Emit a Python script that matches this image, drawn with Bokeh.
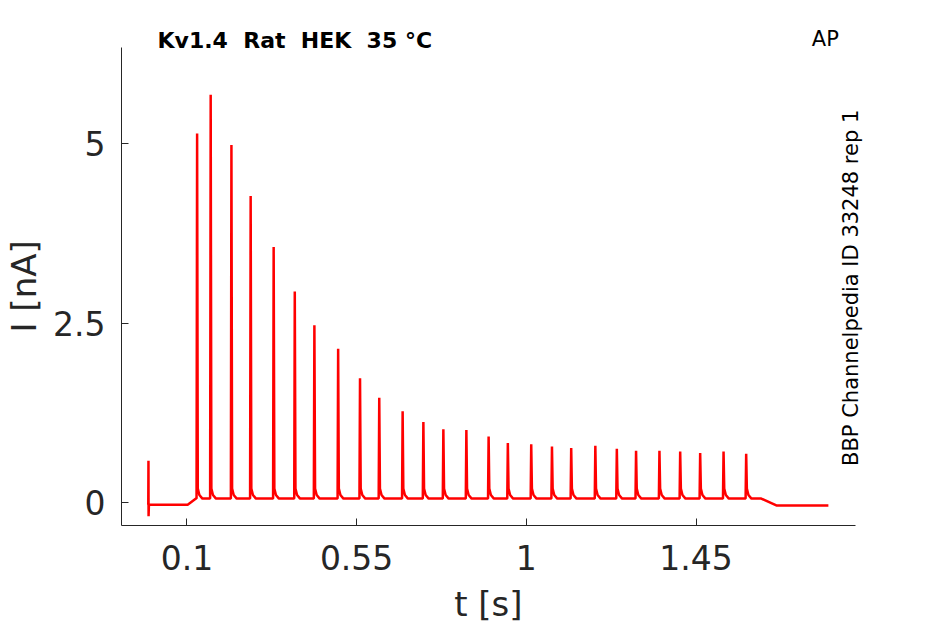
import math
from bokeh.plotting import figure
from bokeh.models import (FixedTicker, CustomJSTickFormatter, Label, Range1d,
                          LinearAxis)
from bokeh.embed import file_html
from bokeh.resources import INLINE

# ---- data ----
spike_t = [0.127, 0.163, 0.218, 0.269, 0.330, 0.386, 0.438, 0.501, 0.559, 0.610,
           0.672, 0.727, 0.780, 0.841, 0.900, 0.951, 1.013, 1.068, 1.119, 1.183,
           1.240, 1.291, 1.353, 1.408, 1.461, 1.523, 1.583]
spike_peak = [5.14, 5.68, 4.98, 4.27, 3.56, 2.94, 2.47, 2.14, 1.73, 1.46,
              1.27, 1.12, 1.02, 1.01, 0.92, 0.83, 0.81, 0.78, 0.76, 0.79,
              0.75, 0.72, 0.72, 0.71, 0.69, 0.71, 0.68]
artifact_t = -0.002
artifact_range = [0.58, -0.19]
trace_start, trace_end = -0.005, 1.801
step_on, ramp_end = 0.102, 0.124
step_off, off_end = 1.623, 1.663
pre_level, train_level, post_level = -0.03, 0.055, -0.04

x_ticks = [0.1, 0.55, 1, 1.45]
y_ticks = [0, 2.5, 5]
x_axis_bounds = (-0.0735, 1.873)
y_axis_bounds = (-0.32, 6.34)
x_view = [-0.0735, 1.9498]
y_view = [-0.32, 6.713]

x_title, x_title_at = "t [s]", 0.8995
y_title, y_title_at = "I [nA]", 3.01
title_text = "Kv1.4\u00a0\u00a0Rat\u00a0\u00a0HEK\u00a0\u00a035 \u00b0C"
corner_text = "AP"
side_text = "BBP Channelpedia ID 33248 rep 1"

# ---- build trace ----
ts, ys = [], []
def add(t, y):
    ts.append(t); ys.append(y)

add(trace_start, pre_level)
add(artifact_t - 0.0005, pre_level)
add(artifact_t, artifact_range[0])
add(artifact_t + 0.0003, artifact_range[1])
add(artifact_t + 0.0012, pre_level)
add(step_on, pre_level)
add(ramp_end, train_level)
for t, pk in zip(spike_t, spike_peak):
    add(t - 0.0015, train_level)
    add(t, pk)
    add(t + 0.0018, train_level + 0.14)
    add(t + 0.006, train_level + 0.05)
    add(t + 0.014, train_level)
add(step_off, train_level)
add(off_end, post_level)
add(trace_end, post_level)

FONT = "DejaVu Sans"
AX = "#262626"

p = figure(frame_width=763, frame_height=505, output_backend="svg",
           toolbar_location=None,
           x_range=Range1d(*x_view), y_range=Range1d(*y_view),
           min_border_left=121, min_border_right=40,
           min_border_top=20, min_border_bottom=40)
p.outline_line_color = None
p.xgrid.visible = False
p.ygrid.visible = False
p.background_fill_color = "white"
p.border_fill_color = "white"

p.line(ts, ys, line_color="#ff0000", line_width=2.5)

xa = p.xaxis[0]
ya = p.yaxis[0]
for ax in (xa, ya):
    ax.axis_line_color = AX
    ax.axis_line_width = 1
    ax.major_tick_line_color = AX
    ax.major_tick_in = 7
    ax.major_tick_out = 0
    ax.minor_tick_line_color = None
    ax.major_label_text_font = FONT
    ax.major_label_text_font_size = "33px"
    ax.major_label_text_color = AX
    ax.formatter = CustomJSTickFormatter(code="return tick.toString();")

xa.ticker = FixedTicker(ticks=x_ticks)
ya.ticker = FixedTicker(ticks=y_ticks)
xa.bounds = x_axis_bounds
ya.bounds = y_axis_bounds
xa.major_label_standoff = 19
ya.major_label_standoff = 16

# axis titles, placed at the centre of the drawn axes
def title_axis(text, at, **kw):
    a = LinearAxis(ticker=FixedTicker(ticks=[at]),
                   formatter=CustomJSTickFormatter(args=dict(label=text),
                                                   code="return label;"),
                   axis_line_color=None, major_tick_line_color=None,
                   minor_tick_line_color=None,
                   major_label_text_font=FONT, major_label_text_font_size="34px",
                   major_label_text_color=AX, **kw)
    return a

p.add_layout(title_axis(x_title, x_title_at, major_label_standoff=5), "below")
p.add_layout(title_axis(y_title, y_title_at, major_label_standoff=0,
                        major_label_orientation="vertical"), "left")

p.add_layout(Label(x=0.022, y=6.435, text=title_text, text_font=FONT,
                   text_font_size="22px", text_font_style="bold",
                   text_color="black", text_align="left", text_baseline="middle"))
p.add_layout(Label(x=1.757, y=6.46, text=corner_text, text_font=FONT,
                   text_font_size="21px", text_color="black",
                   text_align="left", text_baseline="middle"))
p.add_layout(Label(x=1.861, y=2.99, text=side_text, text_font=FONT,
                   text_font_size="21px", text_color="black", angle=math.pi / 2,
                   text_align="center", text_baseline="middle"))

open("out.html", "w").write(file_html(p, INLINE))
